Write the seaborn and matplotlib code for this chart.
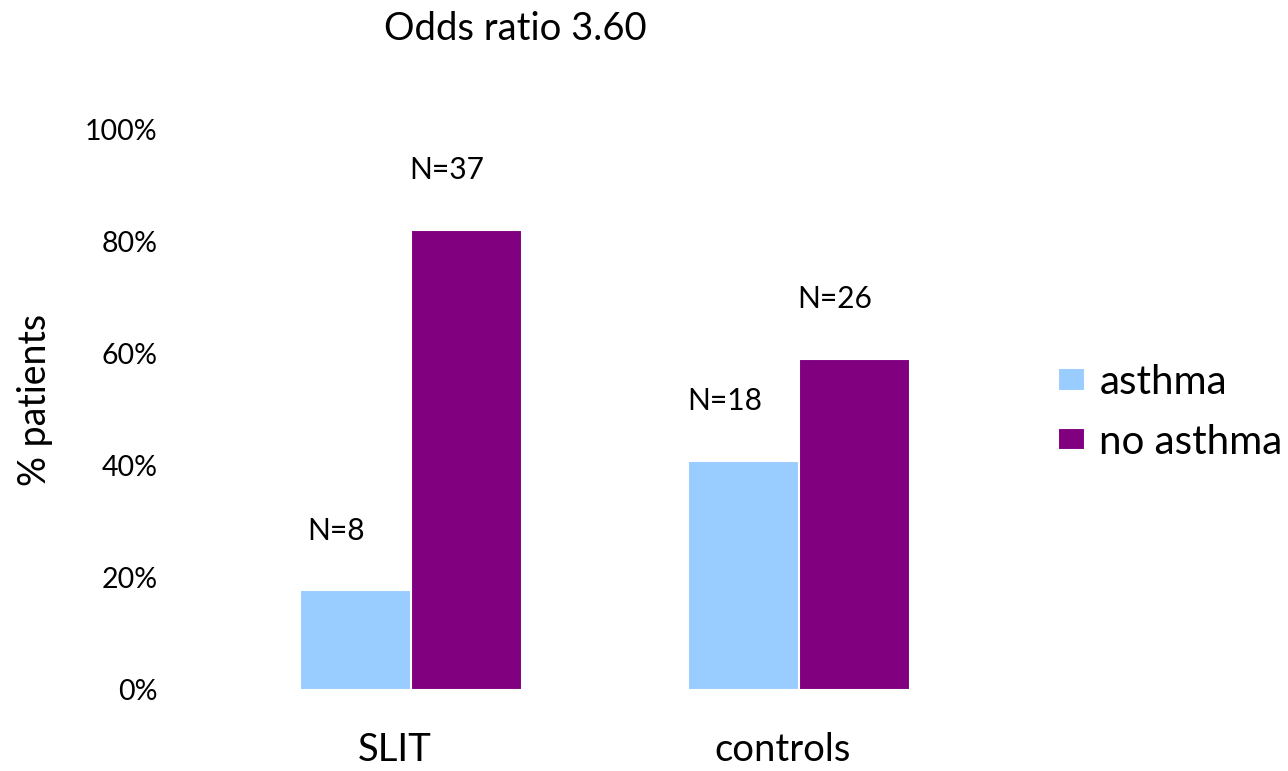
import pandas as pd
import matplotlib
matplotlib.use('Agg')
import matplotlib.pyplot as plt
import matplotlib.transforms as mtransforms
import seaborn as sns

# data
groups = ['SLIT', 'SLIT', 'controls', 'controls']
status = ['asthma', 'no asthma', 'asthma', 'no asthma']
counts = [8, 37, 18, 26]

df = pd.DataFrame({'group': groups, 'status': status, 'n': counts})
df['pct'] = df['n'] / df.groupby('group')['n'].transform('sum') * 100

sns.set_style('white', {'text.color': 'black', 'axes.labelcolor': 'black',
                        'xtick.color': 'black', 'ytick.color': 'black'})
plt.rcParams['font.family'] = ['Lato', 'DejaVu Sans']

fig = plt.figure(figsize=(12.88, 7.71), dpi=100)
ax = fig.add_axes([170 / 1288, 81 / 771, 870 / 1288, 560 / 771])

sns.barplot(data=df, x='group', y='pct', hue='status',
            palette=['#99CCFF', '#800080'], saturation=1, width=0.57,
            edgecolor='white', linewidth=1.5, ax=ax)

# N labels above each bar
for cont, lvl in zip(ax.containers, ['asthma', 'no asthma']):
    sub = df[df['status'] == lvl]
    for bar, n in zip(cont, sub['n']):
        ax.annotate(f'N={n}', (bar.get_x() + bar.get_width() / 2, bar.get_height()),
                    xytext=(-14, 43), textcoords='offset points',
                    ha='center', va='center', fontsize=21.5, color='black')

ax.set_xlim(-0.621, 1.621)
ax.set_ylim(0, 100)
ax.set_yticks(range(0, 101, 20))
ax.set_yticklabels([f'{v}%' for v in range(0, 101, 20)], fontsize=20.5)
ax.tick_params(axis='y', length=0, pad=9)
ax.tick_params(axis='x', length=0, pad=30, labelsize=27.5)
# category labels sit a little left of the bar pairs
shift = mtransforms.ScaledTranslation(-12 / 72, 0, fig.dpi_scale_trans)
for lab in ax.get_xticklabels():
    lab.set_transform(lab.get_transform() + shift)
ax.set_xlabel('')
ax.set_ylabel('% patients', fontsize=27)
ax.yaxis.set_label_coords(-0.135, 0.518)
sns.despine(ax=ax, left=True, bottom=True)

fig.text(515 / 1288, 1 - 29 / 771, 'Odds ratio 3.60', ha='center', va='center',
         fontsize=27.5, color='black')

ax.legend(loc='upper left', bbox_to_anchor=(1058 / 1288, 1 - 364 / 771),
          bbox_transform=fig.transFigure, frameon=False, fontsize=29,
          handlelength=0.68, handleheight=0.48, handletextpad=0.35,
          labelspacing=0.56, borderpad=0, borderaxespad=0, title=None)

fig.savefig('out.png', dpi=100)
